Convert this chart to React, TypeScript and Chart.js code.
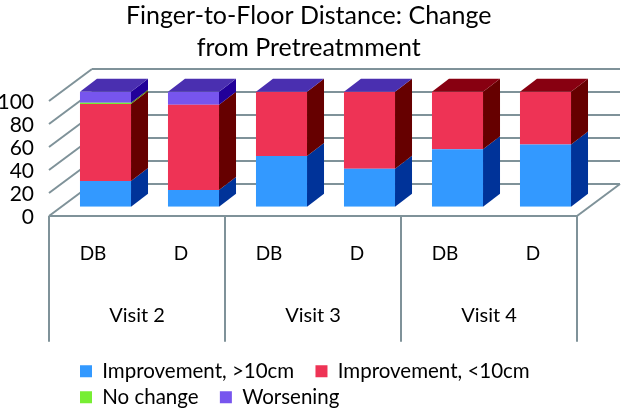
import React, { useEffect, useRef } from "react";
import { Chart, registerables } from "chart.js";

Chart.register(...registerables);

const treatments = ["DB", "D", "DB", "D", "DB", "D"];
const visits = ["Visit 2", "Visit 3", "Visit 4"];
const improvementOver10 = [22.3, 14.5, 44, 33, 50, 54];
const improvementUnder10 = [67, 74.2, 55.9, 66.9, 50, 46];
const noChange = [1.2, 0, 0, 0, 0, 0];
const worsening = [9.5, 11.3, 0.1, 0.1, 0, 0];

const FRONT = ["#3399ff", "#ee3355", "#77ee33", "#7755ee"];
const SIDE = ["#003399", "#660000", "#558800", "#220099"];
const TOP = ["#0066cc", "#880011", "#55aa11", "#4a2fb0"];
const GRID = "#7f9299";
const FONT = "Lato";

// depth of a bar and of the floor, in pixels
const BAR_DX = 17, BAR_DY = 13;
const FLOOR_DX = 43, FLOOR_DY = 32;
const FRONT_DX = 12.5, FRONT_DY = 9.3; // from the bars' plane to the front edge of the floor

const poly = (ctx: CanvasRenderingContext2D, pts: number[][], fill: string) => {
  ctx.fillStyle = fill;
  ctx.beginPath();
  pts.forEach((p, i) => (i ? ctx.lineTo(p[0], p[1]) : ctx.moveTo(p[0], p[1])));
  ctx.closePath();
  ctx.fill();
};

const scene3d = {
  id: "scene3d",
  afterLayout(chart: any) {
    const { titleBlock, legend, chartArea } = chart;
    titleBlock.left += 14;
    titleBlock.right += 14;
    legend.left = chartArea.left + 13;
    legend.top = chartArea.bottom + 148.8;
    legend.bottom = chart.height;
    legend.height = chart.height - legend.top;
  },
  beforeDatasetsDraw(chart: any) {
    const { ctx, chartArea, scales } = chart;
    const y = scales.y;
    const left = chartArea.left - FRONT_DX;
    const right = chartArea.right - FRONT_DX;
    const floorY = y.getPixelForValue(0) + FRONT_DY;
    ctx.save();
    ctx.strokeStyle = GRID;
    ctx.lineWidth = 2;
    const line = (x1: number, y1: number, x2: number, y2: number) => {
      ctx.beginPath();
      ctx.moveTo(x1, y1);
      ctx.lineTo(x2, y2);
      ctx.stroke();
    };
    y.ticks.forEach((t: any) => {
      const py = y.getPixelForValue(t.value) + FRONT_DY;
      line(left, py, left + FLOOR_DX, py - FLOOR_DY);
      line(left + FLOOR_DX, py - FLOOR_DY, right + FLOOR_DX, py - FLOOR_DY);
    });
    line(left, floorY, right, floorY);
    line(right, floorY, right + FLOOR_DX, floorY - FLOOR_DY);
    const step = (right - left) / visits.length;
    const axisBottom = scales.x2.bottom;
    visits.concat("").forEach((_, i) => line(left + step * i, floorY, left + step * i, axisBottom));

    treatments.forEach((_, i) => {
      let top = -1;
      chart.data.datasets.forEach((ds: any, d: number) => {
        if (ds.data[i] <= 0) return;
        top = d;
        const bar = chart.getDatasetMeta(d).data[i];
        const xr = bar.x + bar.width / 2;
        poly(ctx, [[xr, bar.y], [xr + BAR_DX, bar.y - BAR_DY], [xr + BAR_DX, bar.base - BAR_DY], [xr, bar.base]], SIDE[d]);
      });
      if (top >= 0) {
        const bar = chart.getDatasetMeta(top).data[i];
        const xl = bar.x - bar.width / 2;
        const xr = bar.x + bar.width / 2;
        poly(ctx, [[xl, bar.y], [xl + BAR_DX, bar.y - BAR_DY], [xr + BAR_DX, bar.y - BAR_DY], [xr, bar.y]], TOP[top]);
      }
    });
    ctx.restore();
  },
};

export default function App() {
  const ref = useRef<HTMLCanvasElement>(null);
  useEffect(() => {
    document.body.style.margin = "0";
    const series: [string, number[]][] = [
      ["Improvement, >10cm", improvementOver10],
      ["Improvement, <10cm", improvementUnder10],
      ["No change", noChange],
      ["Worsening", worsening],
    ];
    const chart = new Chart(ref.current!, {
      type: "bar",
      data: {
        labels: treatments,
        datasets: series.map(([label, data], i) => ({
          label,
          data,
          backgroundColor: FRONT[i],
          borderWidth: 0,
          categoryPercentage: 1,
          barPercentage: 0.58,
        })),
      },
      plugins: [scene3d],
      options: {
        responsive: false,
        animation: false,
        layout: { padding: { right: 34.5, bottom: 4.3 } },
        plugins: {
          tooltip: { enabled: false },
          title: {
            display: true,
            text: ["Finger-to-Floor Distance: Change", "from Pretreatmment"],
            color: "#000",
            font: { family: FONT, size: 25, weight: "normal", lineHeight: "32px" },
            padding: { top: 0, bottom: 27.7 },
          },
          legend: {
            position: "bottom",
            align: "start",
            fullSize: false,
            labels: {
              color: "#000",
              font: { family: FONT, size: 20.5 },
              boxWidth: 12,
              boxHeight: 12,
              padding: 5.5,
              generateLabels: (c: any) =>
                Chart.defaults.plugins.legend.labels.generateLabels(c).map((l: any) => ({ ...l, text: l.text + "   " })),
            },
          },
        },
        scales: {
          x: {
            stacked: true,
            weight: 0,
            grid: { display: false, drawTicks: false },
            border: { display: false },
            ticks: { color: "#000", font: { family: FONT, size: 19 }, padding: 36, labelOffset: -FRONT_DX, maxRotation: 0, autoSkip: false },
            afterFit: (s: any) => { s.height = 80; },
          },
          x2: {
            type: "category",
            labels: visits,
            position: "bottom",
            weight: 1,
            offset: true,
            grid: { display: false, drawTicks: false },
            border: { display: false },
            ticks: { color: "#000", font: { family: FONT, size: 20 }, padding: 17, labelOffset: -FRONT_DX, maxRotation: 0, autoSkip: false },
            afterFit: (s: any) => { s.height = 55; },
          },
          y: {
            stacked: true,
            min: 0,
            max: 100,
            grid: { display: false, drawTicks: false },
            border: { display: false },
            ticks: { stepSize: 20, autoSkip: false, color: "#000", font: { family: FONT, size: 21 }, padding: 27.5, labelOffset: 11 },
            afterFit: (s: any) => { s.width = 61.5; },
          },
        },
      },
    } as any);
    return () => chart.destroy();
  }, []);
  return <canvas ref={ref} width={624} height={408} style={{ display: "block", background: "#fff" }} />;
}
